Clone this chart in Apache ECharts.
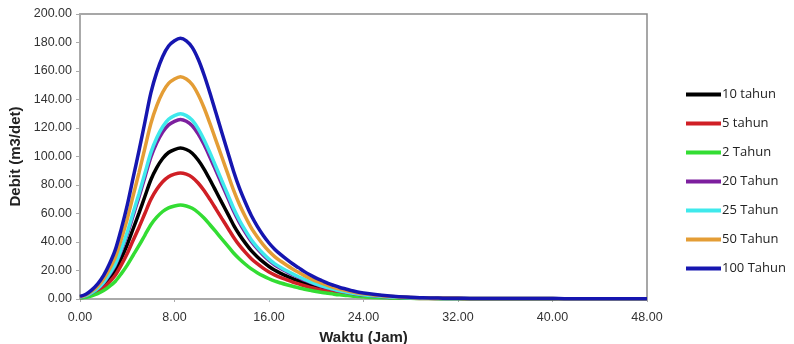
<!DOCTYPE html>
<html><head><meta charset="utf-8">
<script src="https://cdn.jsdelivr.net/npm/echarts@6/dist/echarts.min.js"></script>
<style>html,body{margin:0;padding:0;background:#fff}#c{width:794px;height:344px}</style>
</head><body><div id="c"></div>
<script>
const hours = [0,0.5,1,1.5,2,2.5,3,3.5,4,4.5,5,5.5,6,6.5,7,7.5,8,8.5,9,9.5,10,10.5,11,11.5,12,12.5,13,13.5,14,14.5,15,15.5,16,16.5,17,17.5,18,18.5,19,19.5,20,20.5,21,21.5,22,22.5,23,23.5,24,
  25,26,27,28,29,30,31,32,33,34,35,36,37,38,39,40,41,42,43,44,45,46,47,48];
const xTicks = [0,8,16,24,32,40,48];
const yTicks = [0,20,40,60,80,100,120,140,160,180,200];

const q10 = [1.1,1.9,3.7,6.1,9.5,14.3,20.1,28.6,38.2,49.3,60.4,72.1,83.7,92.2,98.6,102.8,104.9,106.0,104.9,102.3,97.5,91.2,83.7,75.8,67.8,59.9,51.9,45.1,39.2,33.9,29.7,26.0,22.8,20.1,18.0,16.1,14.3,12.7,11.1,9.8,8.5,7.4,6.4,5.5,4.7,4.0,3.4,2.9,2.4,
  1.8,1.3,1.0,0.7,0.5,0.4,0.3,0.3,0.2,0.2,0.2,0.2,0.2,0.2,0.2,0.2,0.1,0.1,0.1,0.1,0.1,0.1,0.1,0.1];
const q5 = [0.9,1.6,3.1,5.1,8.0,11.9,16.8,23.9,31.9,41.2,50.4,60.2,69.9,77.0,82.3,85.8,87.6,88.5,87.6,85.4,81.4,76.1,69.9,63.3,56.6,50.0,43.4,37.6,32.7,28.3,24.8,21.7,19.0,16.8,15.0,13.5,11.9,10.6,9.3,8.1,7.1,6.2,5.3,4.6,3.9,3.4,2.8,2.4,2.0,
  1.5,1.1,0.8,0.6,0.4,0.4,0.3,0.3,0.2,0.2,0.2,0.2,0.2,0.2,0.2,0.2,0.1,0.1,0.1,0.1,0.1,0.1,0.1,0.1];
const q2 = [0.7,1.2,2.3,3.8,5.9,8.9,12.5,17.8,23.8,30.7,37.6,44.9,52.1,57.4,61.4,64.0,65.3,66.0,65.3,63.7,60.7,56.8,52.1,47.2,42.2,37.3,32.3,28.1,24.4,21.1,18.5,16.2,14.2,12.5,11.2,10.0,8.9,7.9,6.9,6.1,5.3,4.6,4.0,3.4,2.9,2.5,2.1,1.8,1.5,
  1.1,0.8,0.6,0.5,0.3,0.3,0.2,0.2,0.1,0.1,0.1,0.1,0.1,0.1,0.1,0.1,0.1,0.1,0.1,0.1,0.1,0.1,0.1,0.1];
const q20 = [1.3,2.3,4.4,7.3,11.3,17.0,23.9,34.0,45.4,58.6,71.8,85.7,99.5,109.6,117.2,122.2,124.7,126.0,124.7,121.6,115.9,108.4,99.5,90.1,80.6,71.2,61.7,53.6,46.6,40.3,35.3,30.9,27.1,23.9,21.4,19.2,17.0,15.1,13.2,11.6,10.1,8.8,7.6,6.6,5.5,4.8,4.0,3.4,2.9,
  2.1,1.5,1.1,0.9,0.6,0.5,0.4,0.4,0.3,0.3,0.3,0.3,0.3,0.3,0.3,0.3,0.1,0.1,0.1,0.1,0.1,0.1,0.1,0.1];
const q25 = [1.3,2.3,4.6,7.5,11.7,17.6,24.7,35.1,46.8,60.5,74.1,88.4,102.7,113.1,120.9,126.1,128.7,130.0,128.7,125.5,119.6,111.8,102.7,93.0,83.2,73.5,63.7,55.3,48.1,41.6,36.4,31.9,28.0,24.7,22.1,19.8,17.6,15.6,13.7,12.0,10.4,9.1,7.8,6.8,5.7,4.9,4.2,3.5,3.0,
  2.2,1.6,1.2,0.9,0.7,0.5,0.4,0.4,0.3,0.3,0.3,0.3,0.3,0.3,0.3,0.3,0.1,0.1,0.1,0.1,0.1,0.1,0.1,0.1];
const q50 = [1.6,2.8,5.5,9.0,14.0,21.1,29.6,42.1,56.2,72.5,88.9,106.1,123.2,135.7,145.1,151.3,154.4,156.0,154.4,150.5,143.5,134.2,123.2,111.5,99.8,88.1,76.4,66.3,57.7,49.9,43.7,38.2,33.5,29.6,26.5,23.7,21.1,18.7,16.4,14.4,12.5,10.9,9.4,8.1,6.9,5.9,5.0,4.2,3.6,
  2.7,1.9,1.4,1.1,0.8,0.6,0.5,0.5,0.3,0.3,0.3,0.3,0.3,0.3,0.3,0.3,0.2,0.2,0.2,0.2,0.2,0.2,0.2,0.2];
const q100 = [1.8,3.3,6.4,10.6,16.5,24.7,34.8,49.4,65.9,85.1,104.3,124.4,144.6,159.2,170.2,177.5,181.2,183.0,181.2,176.6,168.4,157.4,144.6,130.8,117.1,103.4,89.7,77.8,67.7,58.6,51.2,44.8,39.3,34.8,31.1,27.8,24.7,22.0,19.2,16.8,14.6,12.8,11.0,9.5,8.1,7.0,5.9,4.9,4.2,
  3.1,2.2,1.6,1.3,0.9,0.7,0.5,0.5,0.4,0.4,0.4,0.4,0.4,0.4,0.4,0.4,0.2,0.2,0.2,0.2,0.2,0.2,0.2,0.2];

const seriesNames = ['10 tahun','5 tahun','2 Tahun','20 Tahun','25 Tahun','50 Tahun','100 Tahun'];
const seriesData = [q10,q5,q2,q20,q25,q50,q100];
const seriesColors = ['#000000','#d01f25','#33dd33','#7d1f9e','#3fe9ec','#e49d35','#1616b0'];

const chart = echarts.init(document.getElementById('c'), null, {renderer:'canvas'});
chart.setOption({
  animation:false,
  backgroundColor:'#fff',
  grid:{left:80,right:147,top:14,bottom:45,containLabel:false,outerBoundsMode:'none',show:true,borderColor:'#8a8a8a',borderWidth:1.5},
  legend:{
    orient:'vertical',left:681,top:82,itemWidth:35,itemHeight:4,itemGap:14,icon:'rect',
    textStyle:{fontFamily:'Open Sans, Liberation Sans, sans-serif',fontSize:13,color:'#222',lineHeight:15,padding:[0,0,0,-4]},
    data:seriesNames
  },
  xAxis:{
    type:'value',min:0,max:48,interval:8,
    name:'Waktu (Jam)',nameLocation:'middle',nameGap:31,
    nameTextStyle:{fontFamily:'Liberation Sans, Arial, sans-serif',fontWeight:'bold',fontSize:15,color:'#222'},
    axisLine:{show:true,lineStyle:{color:'#aaa',width:2}},
    axisTick:{show:true,length:3,inside:false,lineStyle:{color:'#aaa'}},
    splitLine:{show:false},
    axisLabel:{margin:12,fontFamily:'Liberation Sans, Arial, sans-serif',fontSize:12.5,color:'#333',
      formatter:v=>xTicks.includes(v)?v.toFixed(2):''}
  },
  yAxis:{
    type:'value',min:0,max:200,interval:20,
    name:'Debit (m3/det)',nameLocation:'middle',nameGap:51,nameRotate:90,
    nameTextStyle:{fontFamily:'Liberation Sans, Arial, sans-serif',fontWeight:'bold',fontSize:15,color:'#222'},
    axisLine:{show:true,lineStyle:{color:'#aaa',width:2}},
    axisTick:{show:true,length:4,lineStyle:{color:'#aaa'}},
    splitLine:{show:false},
    axisLabel:{margin:8,fontFamily:'Liberation Sans, Arial, sans-serif',fontSize:12.5,color:'#333',
      formatter:v=>yTicks.includes(v)?v.toFixed(2):''}
  },
  series:seriesNames.map((n,i)=>({
    name:n,type:'line',smooth:0.3,showSymbol:false,symbol:'none',
    color:seriesColors[i],
    lineStyle:{width:3.5,color:seriesColors[i]},
    data:hours.map((h,j)=>[h,seriesData[i][j]])
  }))
});
</script></body></html>
